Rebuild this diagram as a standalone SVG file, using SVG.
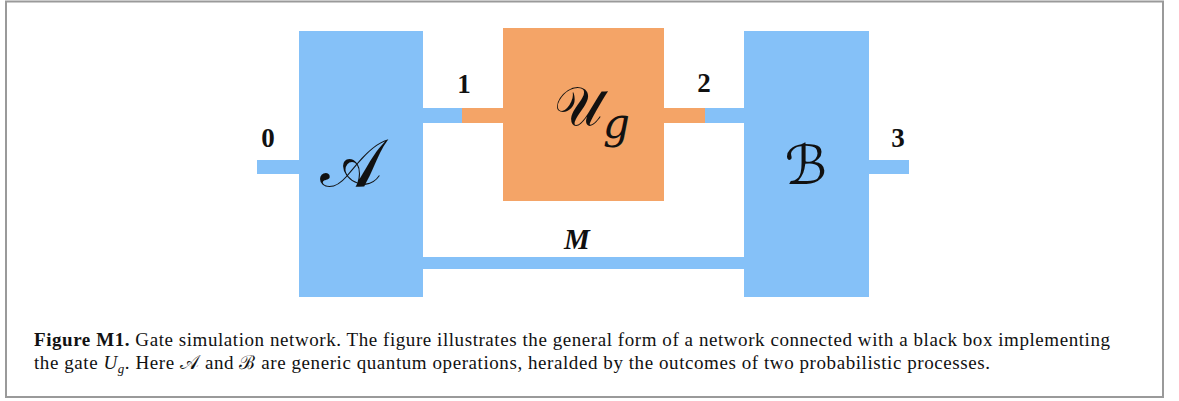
<svg xmlns="http://www.w3.org/2000/svg" width="1179" height="401" viewBox="0 0 1179 401">
<style>
.blue{fill:#85c1f8}
.orange{fill:#f4a467}
.num{font-family:"Liberation Serif",serif;font-weight:bold;font-size:27px;fill:#111;text-anchor:middle}
.cal{font-family:"DejaVu Serif","DejaVu Sans","Noto Sans",serif;fill:#111;text-anchor:middle}
.cap{font-family:"Liberation Serif",serif;font-size:19px;fill:#111}
</style>
<rect x="0" y="0" width="1179" height="401" fill="#fff"/>
<rect x="6" y="1.5" width="1157" height="395.5" fill="none" stroke="#9a9a9a" stroke-width="2"/>
<g id="connectors">
<rect class="blue" x="257" y="160" width="44" height="14"/>
<rect class="blue" x="421" y="108" width="41" height="15"/>
<rect class="orange" x="462" y="108" width="43" height="15"/>
<rect class="orange" x="662" y="108" width="43" height="15"/>
<rect class="blue" x="705" y="108" width="41" height="15"/>
<rect class="blue" x="421" y="257" width="325" height="12"/>
<rect class="blue" x="867" y="160" width="42" height="14"/>
<text class="num" x="268" y="147">0</text>
<text class="num" x="464" y="93">1</text>
<text class="num" x="704" y="92">2</text>
<text class="num" x="898" y="147">3</text>
<text x="577" y="249" style="font-family:'Liberation Serif',serif;font-weight:bold;font-style:italic;font-size:29px;fill:#111;text-anchor:middle">M</text>
</g>
<g id="node-A">
<rect class="blue" x="299" y="31" width="124" height="266"/>
<text class="cal" x="351" y="186" font-size="66">𝒜</text>
</g>
<g id="node-Ug">
<rect class="orange" x="503" y="28" width="161" height="173"/>
<text class="cal" x="592" y="125" font-size="54">𝒰<tspan font-size="42" font-style="italic" dy="13">g</tspan></text>
</g>
<g id="node-B">
<rect class="blue" x="744" y="31" width="125" height="266"/>
<text class="cal" x="806" y="184" font-size="54">ℬ</text>
</g>
<g id="caption">
<text class="cap" x="34" y="346" textLength="1076" lengthAdjust="spacing"><tspan font-weight="bold">Figure M1.</tspan> Gate simulation network. The figure illustrates the general form of a network connected with a black box implementing</text>
<text class="cap" x="34" y="369" textLength="956" lengthAdjust="spacing">the gate <tspan font-style="italic">U</tspan><tspan font-style="italic" font-size="13" dy="4">g</tspan><tspan dy="-4">. Here </tspan><tspan font-family="DejaVu Serif,serif" font-size="20">𝒜</tspan> and <tspan font-family="DejaVu Serif,serif" font-size="19">ℬ</tspan> are generic quantum operations, heralded by the outcomes of two probabilistic processes.</text>
</g>
</svg>
